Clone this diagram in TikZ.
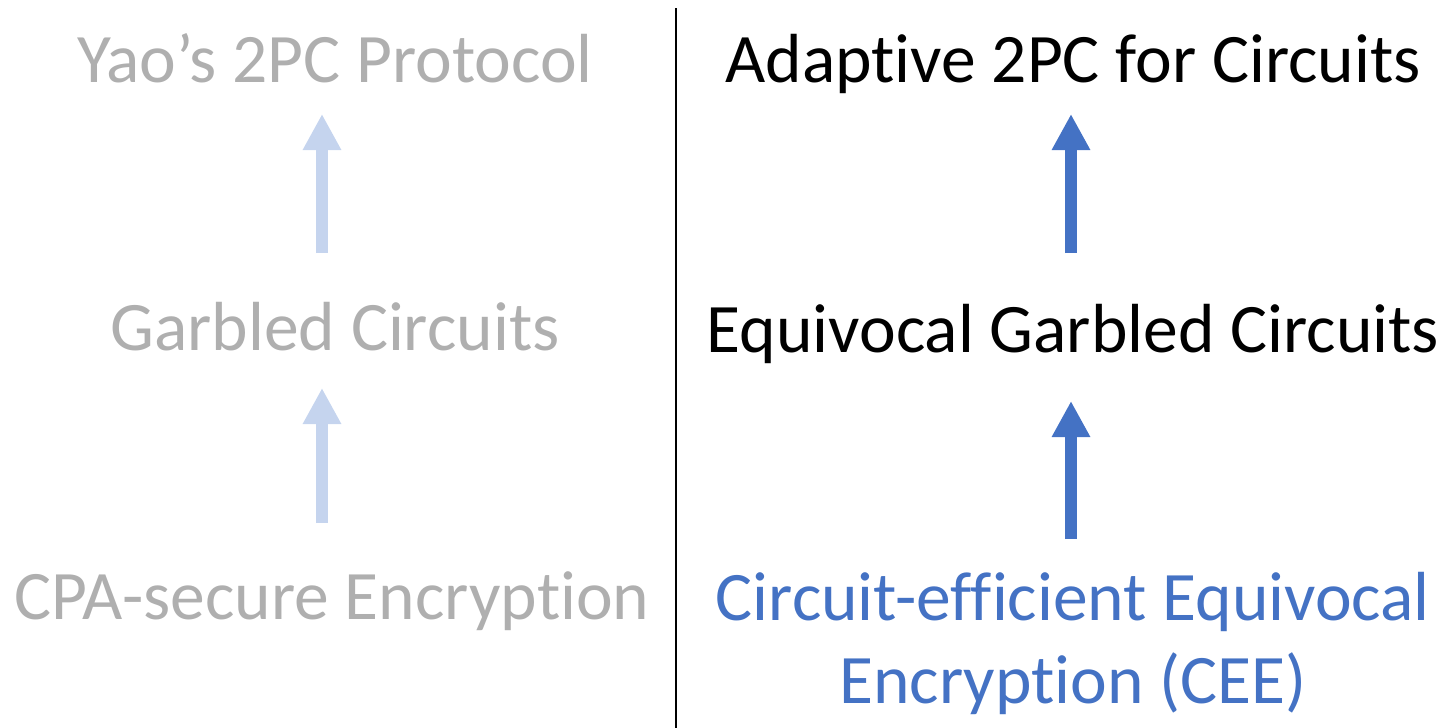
\documentclass[tikz,border=0pt]{standalone}
\usepackage{fontspec}
\setmainfont{Carlito}[Ligatures={NoCommon}]
\usetikzlibrary{arrows.meta}
\definecolor{greytext}{HTML}{AFAFAF}
\definecolor{lightarrow}{HTML}{C5D4EE}
\definecolor{darkblue}{HTML}{4472C4}
\tikzset{
  lbl/.style={anchor=base, inner sep=0pt, font=\fontsize{69.5}{83}\selectfont},
  fadedlbl/.style={lbl, text=greytext},
  boldarrow/.style={line width=12pt, -{Triangle[width=36pt,length=36pt]}},
}
\begin{document}
\begin{tikzpicture}[x=1pt,y=-1pt]
\useasboundingbox (0,0) rectangle (1443,728);
% left column
\node[fadedlbl] (yao) at (335,82) {Yao’s 2PC Protocol};
\node[fadedlbl] (gc) at (335,350) {Garbled Circuits};
\node[fadedlbl] (cpa) at (332,619) {CPA-secure Encryption};
\coordinate (la1s) at (322,253); \coordinate (la1e) at (322,114);
\coordinate (la2s) at (322,523); \coordinate (la2e) at (322,388);
\draw[boldarrow, lightarrow] (la1s) -- (la1e);
\draw[boldarrow, lightarrow] (la2s) -- (la2e);
% divider
\coordinate (dtop) at (676,8); \coordinate (dbot) at (676,728);
\draw[line width=2pt] (dtop) -- (dbot);
% right column
\node[lbl] (adap) at (1073,82) {Adaptive 2PC for Circuits};
\node[lbl] (egc) at (1073,352) {Equivocal Garbled Circuits};
\node[lbl, text=darkblue, align=center, anchor=base] (cee) at (1073,703) {Circuit-efficient Equivocal\\Encryption (CEE)};
\coordinate (ra1s) at (1071,253); \coordinate (ra1e) at (1071,114);
\coordinate (ra2s) at (1071,539); \coordinate (ra2e) at (1071,401);
\draw[boldarrow, darkblue] (ra1s) -- (ra1e);
\draw[boldarrow, darkblue] (ra2s) -- (ra2e);
\end{tikzpicture}
\end{document}
